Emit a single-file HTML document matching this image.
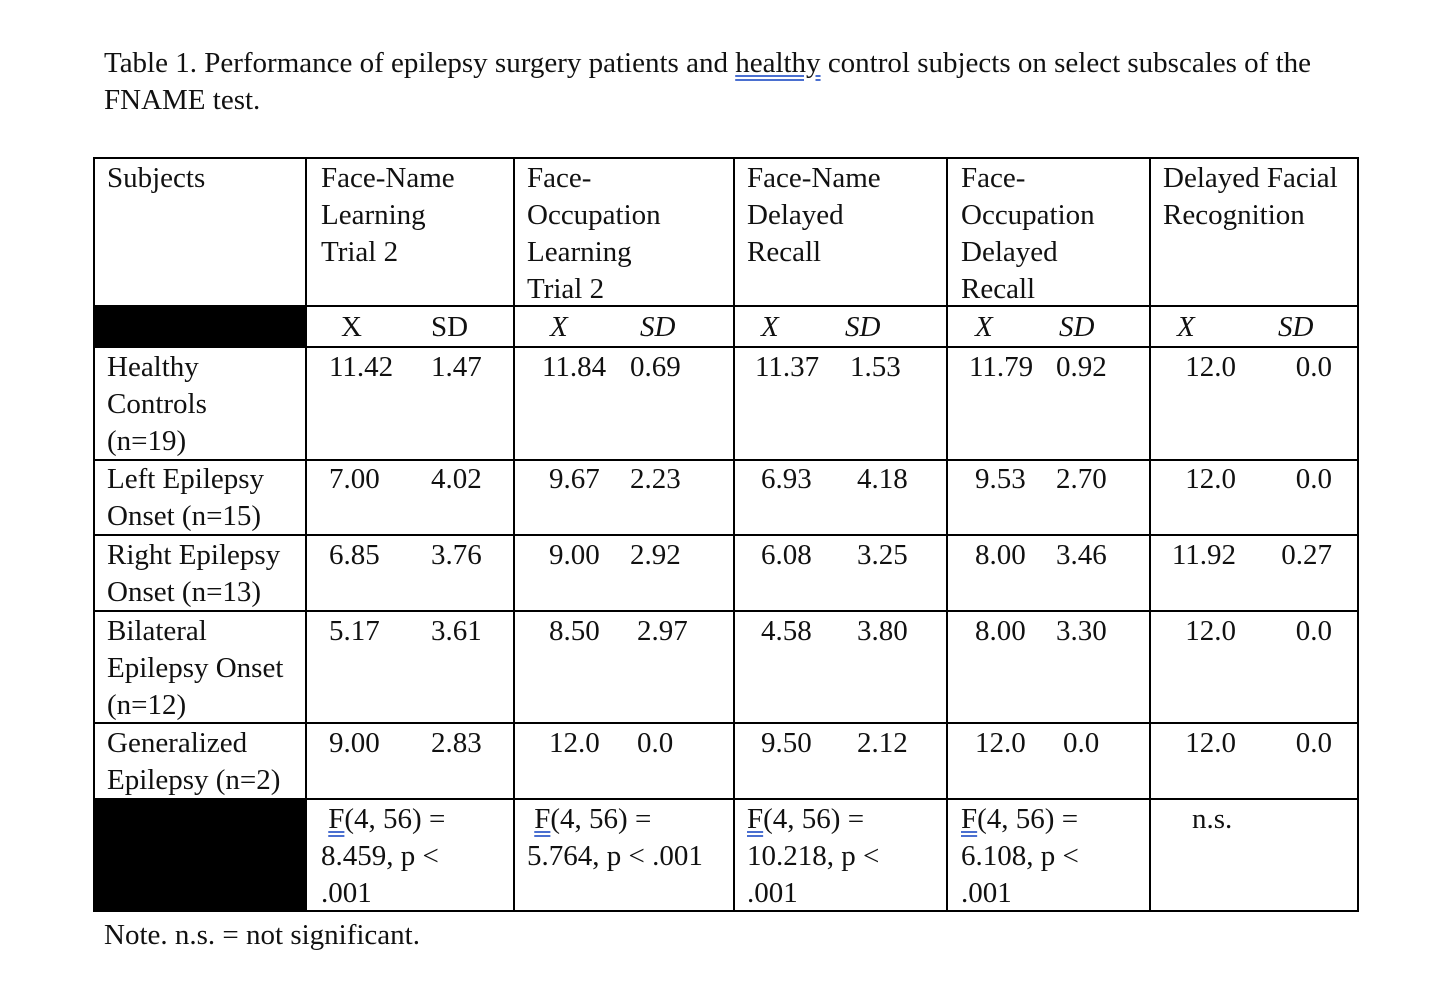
<!DOCTYPE html>
<html><head><meta charset="utf-8"><style>
body{margin:0;width:1431px;height:985px;background:#fff;position:relative;font-family:"Liberation Serif",serif;font-size:29px;color:#111;overflow:hidden}
.t{position:absolute;line-height:37px;white-space:nowrap;padding-top:2px}
.r{text-align:right}
.h{position:absolute;background:#000;height:2px}
.v{position:absolute;background:#000;width:2px}
.blk{position:absolute;background:#000}
i{font-style:italic}
.u{text-decoration:underline double #4a6fd0;text-underline-offset:3px}
</style></head><body>
<div class="t" style="left:104px;top:43px">Table 1. Performance of epilepsy surgery patients and <span class="u">healthy</span> control subjects on select subscales of the</div>
<div class="t" style="left:104px;top:80px">FNAME test.</div>

<div class="blk" style="left:94px;top:306px;width:212px;height:40px"></div>
<div class="blk" style="left:94px;top:798px;width:212px;height:113px"></div>

<div class="h" style="left:93px;top:157px;width:1266px"></div>
<div class="h" style="left:93px;top:305px;width:1266px"></div>
<div class="h" style="left:93px;top:346px;width:1266px"></div>
<div class="h" style="left:93px;top:459px;width:1266px"></div>
<div class="h" style="left:93px;top:534px;width:1266px"></div>
<div class="h" style="left:93px;top:610px;width:1266px"></div>
<div class="h" style="left:93px;top:722px;width:1266px"></div>
<div class="h" style="left:93px;top:798px;width:1266px"></div>
<div class="h" style="left:93px;top:910px;width:1266px"></div>
<div class="v" style="left:93px;top:157px;height:755px"></div>
<div class="v" style="left:305px;top:157px;height:755px"></div>
<div class="v" style="left:513px;top:157px;height:755px"></div>
<div class="v" style="left:733px;top:157px;height:755px"></div>
<div class="v" style="left:946px;top:157px;height:755px"></div>
<div class="v" style="left:1149px;top:157px;height:755px"></div>
<div class="v" style="left:1357px;top:157px;height:755px"></div>

<div class="t" style="left:107px;top:158px">Subjects</div>
<div class="t" style="left:321px;top:158px">Face-Name<br>Learning<br>Trial 2</div>
<div class="t" style="left:527px;top:158px">Face-<br>Occupation<br>Learning<br>Trial 2</div>
<div class="t" style="left:747px;top:158px">Face-Name<br>Delayed<br>Recall</div>
<div class="t" style="left:961px;top:158px">Face-<br>Occupation<br>Delayed<br>Recall</div>
<div class="t" style="left:1163px;top:158px">Delayed Facial<br>Recognition</div>

<div class="t" style="left:341px;top:307px">X</div><div class="t" style="left:431px;top:307px">SD</div>
<div class="t" style="left:550px;top:307px"><i>X</i></div><div class="t" style="left:640px;top:307px"><i>SD</i></div>
<div class="t" style="left:761px;top:307px"><i>X</i></div><div class="t" style="left:845px;top:307px"><i>SD</i></div>
<div class="t" style="left:975px;top:307px"><i>X</i></div><div class="t" style="left:1059px;top:307px"><i>SD</i></div>
<div class="t" style="left:1177px;top:307px"><i>X</i></div><div class="t" style="left:1278px;top:307px"><i>SD</i></div>

<div class="t" style="left:107px;top:347px">Healthy<br>Controls<br>(n=19)</div>
<div class="t" style="left:107px;top:459px">Left Epilepsy<br>Onset (n=15)</div>
<div class="t" style="left:107px;top:535px">Right Epilepsy<br>Onset (n=13)</div>
<div class="t" style="left:107px;top:611px">Bilateral<br>Epilepsy Onset<br>(n=12)</div>
<div class="t" style="left:107px;top:723px">Generalized<br>Epilepsy (n=2)</div>

<div class="t" style="left:329px;top:347px">11.42</div><div class="t" style="left:431px;top:347px">1.47</div>
<div class="t" style="left:542px;top:347px">11.84</div><div class="t" style="left:630px;top:347px">0.69</div>
<div class="t" style="left:755px;top:347px">11.37</div><div class="t" style="left:850px;top:347px">1.53</div>
<div class="t" style="left:969px;top:347px">11.79</div><div class="t" style="left:1056px;top:347px">0.92</div>
<div class="t r" style="left:1136px;width:100px;top:347px">12.0</div><div class="t r" style="left:1232px;width:100px;top:347px">0.0</div>

<div class="t" style="left:329px;top:459px">7.00</div><div class="t" style="left:431px;top:459px">4.02</div>
<div class="t" style="left:549px;top:459px">9.67</div><div class="t" style="left:630px;top:459px">2.23</div>
<div class="t" style="left:761px;top:459px">6.93</div><div class="t" style="left:857px;top:459px">4.18</div>
<div class="t" style="left:975px;top:459px">9.53</div><div class="t" style="left:1056px;top:459px">2.70</div>
<div class="t r" style="left:1136px;width:100px;top:459px">12.0</div><div class="t r" style="left:1232px;width:100px;top:459px">0.0</div>

<div class="t" style="left:329px;top:535px">6.85</div><div class="t" style="left:431px;top:535px">3.76</div>
<div class="t" style="left:549px;top:535px">9.00</div><div class="t" style="left:630px;top:535px">2.92</div>
<div class="t" style="left:761px;top:535px">6.08</div><div class="t" style="left:857px;top:535px">3.25</div>
<div class="t" style="left:975px;top:535px">8.00</div><div class="t" style="left:1056px;top:535px">3.46</div>
<div class="t r" style="left:1136px;width:100px;top:535px">11.92</div><div class="t r" style="left:1232px;width:100px;top:535px">0.27</div>

<div class="t" style="left:329px;top:611px">5.17</div><div class="t" style="left:431px;top:611px">3.61</div>
<div class="t" style="left:549px;top:611px">8.50</div><div class="t" style="left:637px;top:611px">2.97</div>
<div class="t" style="left:761px;top:611px">4.58</div><div class="t" style="left:857px;top:611px">3.80</div>
<div class="t" style="left:975px;top:611px">8.00</div><div class="t" style="left:1056px;top:611px">3.30</div>
<div class="t r" style="left:1136px;width:100px;top:611px">12.0</div><div class="t r" style="left:1232px;width:100px;top:611px">0.0</div>

<div class="t" style="left:329px;top:723px">9.00</div><div class="t" style="left:431px;top:723px">2.83</div>
<div class="t" style="left:549px;top:723px">12.0</div><div class="t" style="left:637px;top:723px">0.0</div>
<div class="t" style="left:761px;top:723px">9.50</div><div class="t" style="left:857px;top:723px">2.12</div>
<div class="t" style="left:975px;top:723px">12.0</div><div class="t" style="left:1063px;top:723px">0.0</div>
<div class="t r" style="left:1136px;width:100px;top:723px">12.0</div><div class="t r" style="left:1232px;width:100px;top:723px">0.0</div>

<div class="t" style="left:321px;top:799px">&nbsp;<span class="u">F</span>(4, 56) =<br>8.459, p &lt;<br>.001</div>
<div class="t" style="left:527px;top:799px">&nbsp;<span class="u">F</span>(4, 56) =<br>5.764, p &lt; .001</div>
<div class="t" style="left:747px;top:799px"><span class="u">F</span>(4, 56) =<br>10.218, p &lt;<br>.001</div>
<div class="t" style="left:961px;top:799px"><span class="u">F</span>(4, 56) =<br>6.108, p &lt;<br>.001</div>
<div class="t" style="left:1192px;top:799px">n.s.</div>

<div class="t" style="left:104px;top:915px">Note. n.s. = not significant.</div>
</body></html>
